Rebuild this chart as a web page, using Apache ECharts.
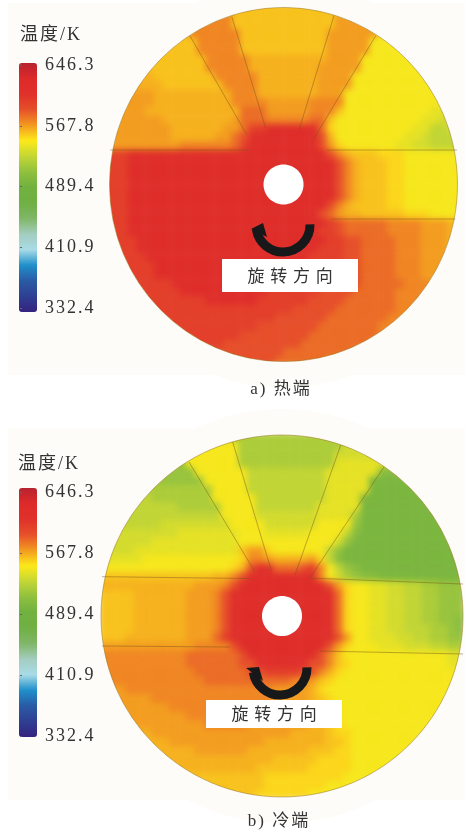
<!DOCTYPE html>
<html>
<head>
<meta charset="utf-8">
<style>
html,body{margin:0;padding:0;background:#fff}
#chart{width:465px;height:834px}
</style>
<script src="https://cdn.jsdelivr.net/npm/echarts@6/dist/echarts.min.js"></script>
</head>
<body>
<div id="chart"></div>
<script>
// 颜色条
const scaleMin = 332.4
const scaleMax = 646.3
const tickValues = [332.4, 410.9, 489.4, 567.8, 646.3]
const scaleColors = ['#35227f', '#2f3f92', '#2a5aa5', '#1f8fcb', '#a8dbe6', '#a3cdc0', '#80b768', '#70b044', '#70b140',
    '#8fc03e', '#c3d635', '#fde91a', '#f39a20', '#e6502a', '#e0302a', '#de2a2a', '#b8232e']

// 温度等级 (K),下面每行用 等级+格数 记录,. 表示盘外
const levelTemps = {A: 612, B: 598, C: 588, D: 580, E: 573, F: 567, G: 562, H: 558, I: 553, J: 546,
    K: 540, L: 534, M: 528, N: 520, O: 512, P: 504, Q: 496}

// a) 热端
const hotRows = [
    '.14 H14 .14', '.11 E4 H12 F4 .11', '.9 E6 H12 F6 .9', '.8 H2 E6 H10 F6 J2 .8',
    '.7 H4 E5 H10 F5 J4 .7', '.6 H5 E5 H10 F5 J5 .6', '.5 H7 E5 G9 F4 J7 .5', '.4 H8 E5 G8 F5 J8 .4',
    '.3 G3 H7 E5 G7 F4 J10 .3', '.3 G4 H7 E4 G7 F4 J10 .3', '.2 F4 G9 E3 G7 F3 J12 .2', '.2 F4 G9 E4 F5 E4 J12 .2',
    '.1 F4 G11 D3 F5 E3 H1 J10 K3 .1', '.1 F6 G8 F1 D3 E5 D2 H1 J10 K2 L2 .1',
    '.1 F7 G6 F2 D1 B2 A6 D1 I1 J9 K2 M2 L1 .1', 'F8 G5 F2 D1 C1 A8 C1 G1 J8 K2 L1 M4',
    'F9 E6 D1 B1 A8 C1 F1 I1 J6 K2 L2 M3 N1', 'B3 A23 C1 E1 G1 H3 I3 J7', 'B3 A24 C1 E1 G1 H3 I2 J7', 'B3 A24 C1 E1 G1 H3 I2 J7',
    'B3 A24 C1 E1 G1 H3 I2 J7', 'B3 A24 C1 E1 G1 H3 I2 J7', 'B3 A24 C1 E1 G1 H3 I2 J7', 'B3 A23 C1 E1 G1 H4 I2 J7',
    'B3 A22 C1 D1 F1 G2 H5 I3 J4', 'B3 A23 B1 C1 D5 E4 F3 G2', 'B3 A22 B2 C1 D5 E4 F3 G2',
    '.1 B3 A22 B2 C2 D4 E3 F3 G1 .1', '.1 B3 A21 B3 C2 D4 E3 F3 G1 .1', '.1 B4 A19 B4 C2 D4 E3 F3 G1 .1',
    '.2 B4 A17 B4 C3 D4 E3 F3 .2', '.2 B4 A15 B5 C4 D4 E3 F3 .2', '.3 B5 A12 B6 C4 D5 E3 F1 .3',
    '.3 B6 A10 B6 C4 D5 E4 F1 .3', '.4 B8 A6 B6 C4 D6 E4 .4', '.5 B17 C5 D7 E3 .5', '.6 B14 C6 D7 E3 .6',
    '.7 B11 C7 D7 E3 .7', '.8 B8 C8 D8 E2 .8', '.9 B5 C9 D8 E2 .9', '.11 C10 D8 E2 .11', '.14 C6 D6 E2 .14'
]

// b) 冷端
const coldRows = [
    '.13 K2 N13 L1 .13', '.11 J5 N12 L3 .11', '.9 J7 N11 L6 .9', '.8 O2 J6 N11 K6 O1 .8',
    '.6 O5 J6 M9 K6 P4 .6', '.5 O7 J5 M9 K5 Q6 .5', '.4 N9 J4 M9 K5 Q7 .4', '.3 M3 N7 J5 M8 K4 Q9 .3',
    '.3 M6 N5 J4 M7 K5 Q9 .3', '.2 M12 J4 L7 K4 N1 Q10 .2', '.1 M6 L8 J4 L6 J4 O1 Q11 .1', '.1 L8 K7 J3 K5 J4 M1 P1 Q11 .1',
    'L6 K10 J11 L1 O1 Q13', 'L4 K12 H1 F2 I1 J6 M1 O1 Q14', 'K5 J11 I1 E2 F1 G4 F1 I1 M1 P1 Q14',
    'J15 I1 G1 C1 A2 D3 C1 B1 E1 J1 M1 O1 P1 Q12', 'H13 G2 E1 C1 A8 E1 J1 L1 N1 O1 P2 Q10',
    'G11 F3 E1 C1 A10 C1 F1 I1 J2 K2 L2 M2 N2 O3', 'H4 G6 F3 E1 C1 A12 D1 I1 J2 K2 L2 M2 N2 O3',
    'H4 G6 F3 E1 C1 A12 D1 I1 J2 K2 L2 M2 N2 O3', 'H4 G6 F3 E1 C1 A12 D1 I1 J2 K2 L2 M2 N2 O3',
    'H4 G6 F3 E1 C1 A12 D1 I1 J2 K2 L2 M2 N2 O2 P1', 'H4 G6 F3 E1 C1 A12 D1 I1 J2 K2 L2 M3 N2 O1 P1',
    'H3 G7 F3 D1 B1 A12 C1 F1 J2 K3 L2 M2 N2 O2', 'F11 E4 C1 A10 C1 F1 I1 J3 K3 L3 M2 N2',
    'E10 D6 C1 A8 C1 E1 H1 J12 K2', 'E10 D6 C2 A6 C2 E1 H1 I1 J11 K2', 'E11 D6 C2 B4 C2 E1 G1 I1 J14',
    'E12 D10 E2 F1 H1 I1 J15', 'F3 E17 F4 G1 I1 J16', '.1 F5 E14 F4 G1 H1 I1 J14 .1', '.1 F7 E12 F4 G1 H1 I1 J14 .1',
    '.2 F8 E9 F5 G2 I1 J13 .2', '.3 F9 E5 F7 G2 H1 I1 J11 .3', '.3 G3 F16 G4 H1 I2 J10 .3', '.4 G4 F11 G7 H2 I1 J9 .4',
    '.5 G6 F6 G7 H3 I2 J8 .5', '.6 G14 H5 I4 J7 .6', '.8 G10 H6 I5 J5 .8', '.9 H10 I9 J5 .9', '.11 H8 I7 J5 .11', '.13 H5 I6 J5 .13'
]

// 盘面几何,单位是格: 圆心x, 圆心y, 长半轴, 短半轴, 中心孔半径
const hotDisc = [21, 21, 20.17, 20.52, 2.32]
const coldDisc = [21, 21, 20.77, 20.77, 2.3]
// 叶片和通道的分界线 x1,y1,x2,y2
const hotEdges = [
    [10.16, 3.78, 16.77, 15.26], [15, 1.54, 18.93, 14.45], [26.85, 1.43, 22.8, 14.68], [31.69, 3.75, 24.42, 15.84],
    [0.89, 17, 17, 17], [26, 17, 41.1, 17], [26.5, 25, 40.9, 25]
]
const coldEdges = [
    [10.33, 3.33, 17.9, 15.95], [15.34, 1.03, 19.82, 15.95], [27.74, 1.38, 22.49, 16.3], [32.7, 3.9, 24.2, 16.64],
    [0.34, 16.49, 17.33, 16.7], [24.2, 16.64, 41.77, 17.33], [0.34, 24.44, 15.03, 24.56], [25.36, 25.02, 41.77, 25.36]
]

const panelColor = '#fdfcf8'
const textColor = '#333333'
const serif = '"Liberation Serif","Noto Sans CJK SC",serif'
const cellCount = 42
const indexList = Array.from({length: cellCount}, (_, i) => i)

//把一行行的记录展开成热力图数据
function toCells(rows) {
    const cells = []
    rows.forEach((row, r) => {
        let c = 0
        row.split(' ').forEach(run => {
            const count = +run.slice(1)
            if (run[0] !== '.') {
                for (let i = 0; i < count; i++) {
                    cells.push([c + i, r, levelTemps[run[0]]])
                }
            }
            c += count
        })
    })
    return cells
}

const chart = echarts.init(document.getElementById('chart'), null, {renderer: 'canvas'})

// 分层: 1层云图做柔化, 2层和3层的字距不同
const painter = chart.getZr().painter
painter.getLayer(1).dom.style.filter = 'blur(3px)'
painter.getLayer(2).ctx.letterSpacing = '2px'
painter.getLayer(3).ctx.letterSpacing = '5.7px'

function heatSeries(rows, index) {
    return {
        type: 'heatmap',
        xAxisIndex: index,
        yAxisIndex: index,
        data: toCells(rows),
        zlevel: 1,
        progressive: 0,
        silent: true,
        emphasis: {disabled: true}
    }
}

function edgeSeries(edges, index) {
    return {
        type: 'custom',
        xAxisIndex: index,
        yAxisIndex: index,
        coordinateSystem: 'cartesian2d',
        data: edges,
        zlevel: 2,
        z: 3,
        silent: true,
        encode: {x: [0, 2], y: [1, 3]},
        renderItem(params, api) {
            const a = api.coord([api.value(0), api.value(1)])
            const b = api.coord([api.value(2), api.value(3)])
            return {
                type: 'line',
                shape: {x1: a[0], y1: a[1], x2: b[0], y2: b[1]},
                style: {stroke: 'rgba(120,85,25,0.45)', lineWidth: 1, fill: null}
            }
        }
    }
}

// 盘外遮罩、外缘和中心孔
function discSeries(disc, index) {
    return {
        type: 'custom',
        xAxisIndex: index,
        yAxisIndex: index,
        coordinateSystem: 'cartesian2d',
        data: [disc],
        zlevel: 2,
        z: 2,
        silent: true,
        encode: {x: 0, y: 1},
        renderItem(params, api) {
            const c = api.coord([api.value(0), api.value(1)])
            const size = api.size([api.value(2), api.value(3)])
            const hole = api.size([api.value(4), api.value(4)])
            return {
                type: 'group',
                children: [
                    {type: 'ellipse', shape: {cx: c[0], cy: c[1], rx: size[0] + 13, ry: size[1] + 13},
                        style: {fill: null, stroke: panelColor, lineWidth: 26}},
                    {type: 'ellipse', shape: {cx: c[0], cy: c[1], rx: size[0], ry: size[1]},
                        style: {fill: null, stroke: 'rgba(150,110,20,0.5)', lineWidth: 1}},
                    {type: 'ellipse', shape: {cx: c[0], cy: c[1], rx: hole[0], ry: hole[1]},
                        style: {fill: '#ffffff', stroke: null}}
                ]
            }
        }
    }
}

function colorBar(index, top) {
    return {
        type: 'continuous',
        seriesIndex: index,
        min: scaleMin,
        max: scaleMax,
        inRange: {color: scaleColors},
        calculable: false,
        hoverLink: false,
        text: [],
        left: 19,
        top: top,
        padding: 0,
        itemWidth: 18,
        itemHeight: 249,
        zlevel: 2,
        z: 4
    }
}

function plainAxis(grid, extra) {
    return Object.assign({gridIndex: grid, show: false}, extra)
}

function scaleAxis(grid) {
    return {
        gridIndex: grid,
        type: 'value',
        position: 'right',
        min: scaleMin,
        max: scaleMax,
        zlevel: 2,
        z: 10,
        axisLine: {show: false},
        splitLine: {show: false},
        axisTick: {show: true, length: 2, customValues: tickValues, lineStyle: {color: '#666'}},
        axisLabel: {
            customValues: tickValues,
            margin: 7,
            formatter: v => v.toFixed(1),
            color: textColor,
            fontFamily: serif,
            fontSize: 18
        }
    }
}

function label(text, x, y, size, align) {
    return {
        type: 'text',
        zlevel: 2,
        z: 10,
        silent: true,
        style: {text: text, x: x, y: y, fill: textColor, font: size + 'px ' + serif,
            textAlign: align, textVerticalAlign: 'middle'}
    }
}

// 旋转方向标记
function rotationMark(cx, cy, boxX, boxY, boxW, boxH, head) {
    return [
        {type: 'arc', zlevel: 3, silent: true, shape: {cx: cx, cy: cy, r: 27, startAngle: -0.02, endAngle: Math.PI * 0.95, clockwise: true},
            style: {fill: null, stroke: '#17181a', lineWidth: 9}},
        {type: 'polygon', zlevel: 3, silent: true, shape: {points: head}, style: {fill: '#17181a'}},
        {type: 'rect', zlevel: 3, silent: true, shape: {x: boxX, y: boxY, width: boxW, height: boxH}, style: {fill: '#ffffff'}},
        {type: 'text', zlevel: 3, silent: true, style: {text: '旋转方向', x: boxX + boxW / 2 + 3, y: boxY + boxH / 2,
            fill: textColor, font: '17px "Noto Sans CJK SC"', textAlign: 'center', textVerticalAlign: 'middle'}}
    ]
}

const option = {
    animation: false,
    backgroundColor: '#ffffff',
    grid: [
        {left: 102.4, top: 3.4, width: 362.25, height: 362.25},
        {left: 99, top: 433, width: 366, height: 366},
        {left: 102.4, top: 3.4, width: 362.25, height: 362.25},
        {left: 99, top: 433, width: 366, height: 366},
        {left: 20, top: 65, width: 18, height: 243},
        {left: 20, top: 492, width: 18, height: 244}
    ],
    xAxis: [
        plainAxis(0, {type: 'category', data: indexList}),
        plainAxis(1, {type: 'category', data: indexList}),
        plainAxis(2, {type: 'value', min: 0, max: cellCount}),
        plainAxis(3, {type: 'value', min: 0, max: cellCount}),
        plainAxis(4, {type: 'value', min: 0, max: 1}),
        plainAxis(5, {type: 'value', min: 0, max: 1})
    ],
    yAxis: [
        plainAxis(0, {type: 'category', data: indexList, inverse: true}),
        plainAxis(1, {type: 'category', data: indexList, inverse: true}),
        plainAxis(2, {type: 'value', min: 0, max: cellCount, inverse: true}),
        plainAxis(3, {type: 'value', min: 0, max: cellCount, inverse: true}),
        scaleAxis(4),
        scaleAxis(5)
    ],
    visualMap: [colorBar(0, 63), colorBar(1, 488)],
    series: [
        heatSeries(hotRows, 0),
        heatSeries(coldRows, 1),
        discSeries(hotDisc, 2),
        discSeries(coldDisc, 3),
        edgeSeries(hotEdges, 2),
        edgeSeries(coldEdges, 3)
    ],
    graphic: {
        elements: [
            {type: 'rect', zlevel: 0, z: 0, silent: true, shape: {x: 8, y: 3, width: 457, height: 372}, style: {fill: panelColor}},
            {type: 'rect', zlevel: 0, z: 0, silent: true, shape: {x: 8, y: 428, width: 457, height: 372}, style: {fill: panelColor}},
            label('温度/K', 20, 35, 18, 'left'),
            label('温度/K', 18, 464, 18, 'left'),
            label('a) 热端', 281, 390, 17, 'center'),
            label('b) 冷端', 279, 822, 17, 'center')
        ].concat(
            rotationMark(283, 225, 222, 259, 136, 33, [[251, 229], [263, 223], [267, 237]]),
            rotationMark(280, 668, 206, 700, 136, 28, [[246, 668], [259, 667], [263, 681]])
        )
    }
}

chart.setOption(option)
</script>
</body>
</html>
